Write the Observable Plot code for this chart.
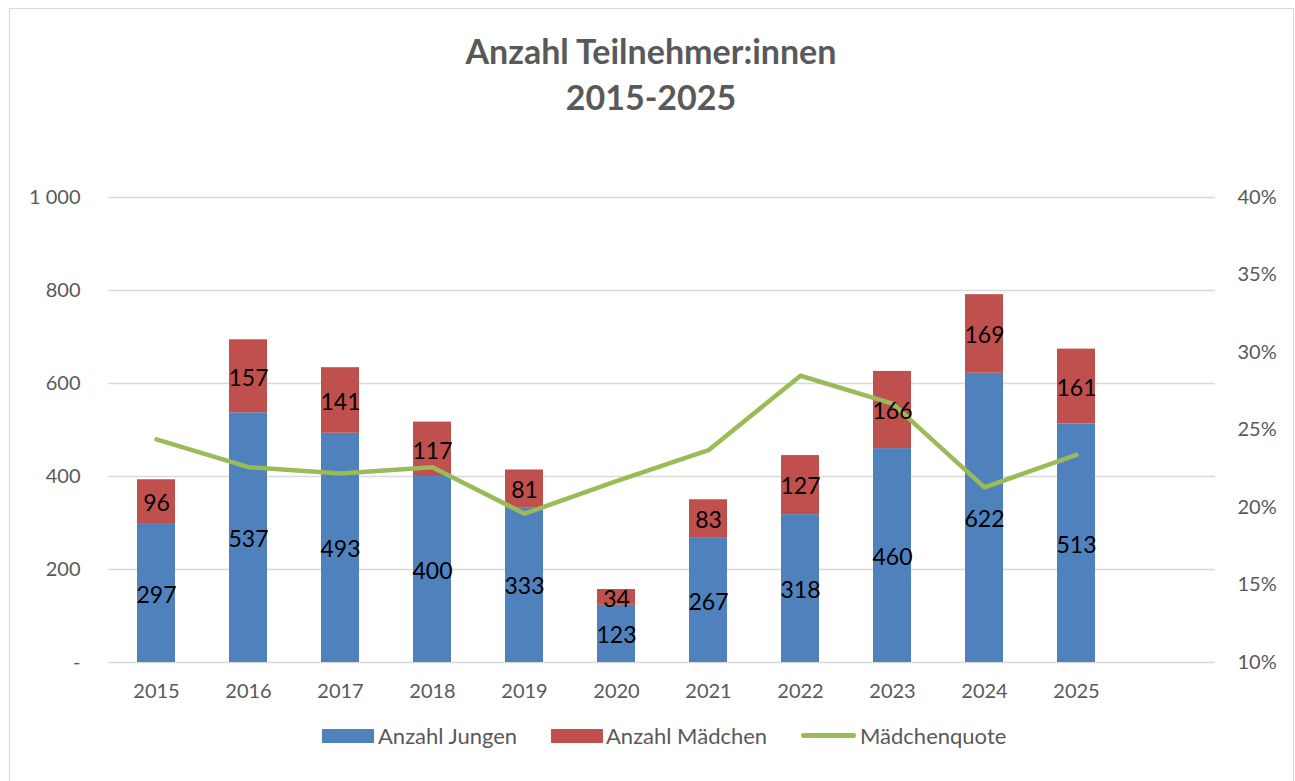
<!DOCTYPE html>
<html><head><meta charset="utf-8">
<script src="https://cdn.jsdelivr.net/npm/d3@7"></script>
<script src="https://cdn.jsdelivr.net/npm/@observablehq/plot@0.6"></script>
<style>
body{margin:0;background:#fff;font-family:Lato,sans-serif;}
#wrap{position:relative;width:1295px;height:781px;overflow:hidden;background:#fff;}
#frame{position:absolute;left:9px;top:8px;width:1285px;height:800px;border:1px solid #d9d9d9;box-sizing:border-box;}
#title{position:absolute;left:0;width:1302px;top:28px;text-align:center;font-weight:bold;font-size:34px;color:#595959;line-height:46px;}
#chart{position:absolute;left:0;top:150px;}
.lg{position:absolute;top:723px;height:26px;font-size:22px;color:#595959;line-height:26px;white-space:nowrap;}
.sw{position:absolute;}
</style></head>
<body>
<div id="wrap">
<div id="frame"></div>
<div id="title">Anzahl Teilnehmer:innen<br>2015-2025</div>
<div id="chart"></div>
<div id="legend"></div>
</div>
<script>
const years = ["2015","2016","2017","2018","2019","2020","2021","2022","2023","2024","2025"];
const jungen = [297,537,493,400,333,123,267,318,460,622,513];
const maedchen = [96,157,141,117,81,34,83,127,166,169,161];
const quote = [0.244,0.226,0.222,0.226,0.196,0.217,0.237,0.285,0.267,0.213,0.234];
const seriesNames = ["Anzahl Jungen","Anzahl Mädchen","Mädchenquote"];
const seriesColors = ["#4F81BD","#C0504D","#9BBB59"];
const leftTicks = [0,200,400,600,800,1000];
const rightTicks = [0.10,0.15,0.20,0.25,0.30,0.35,0.40];

const qToY = q => (q - 0.10) / 0.30 * 1000;
const yToQ = y => y / 1000 * 0.30 + 0.10;

const rows = years.flatMap((yr,i)=>[
  {year:yr, series:seriesNames[0], value:jungen[i]},
  {year:yr, series:seriesNames[1], value:maedchen[i]}
]);
const qRows = years.map((yr,i)=>({year:yr, q:quote[i]}));

const chart = Plot.plot({
  width:1295, height:560,
  marginTop:47, marginBottom:48, marginLeft:108, marginRight:80,
  style:{fontFamily:"Lato, sans-serif", fontSize:"20px", color:"#595959", background:"transparent"},
  x:{domain:[...years," "], paddingInner:0.59, paddingOuter:0.295, label:null},
  y:{domain:[0,1000], label:null},
  color:{domain:seriesNames.slice(0,2), range:seriesColors.slice(0,2)},
  marks:[
    Plot.ruleY(leftTicks, {stroke:"#d9d9d9", strokeWidth:1.3}),
    Plot.barY(rows, {x:"year", y:"value", fill:"series"}),
    Plot.line(qRows, {x:"year", y:d=>qToY(d.q), stroke:seriesColors[2], strokeWidth:4.5, strokeLinejoin:"round", strokeLinecap:"round"}),
    Plot.text(rows, Plot.stackY({x:"year", y:"value", z:"series", text:d=>String(d.value), fill:"black", fontSize:23, dy:2})),
    Plot.axisY(leftTicks, {anchor:"left", tickSize:0, tickPadding:28, fontSize:20,
      tickFormat:d=> d===0 ? "-" : d3.format(",")(d).replace(","," "), label:null}),
    Plot.axisY(rightTicks.map(qToY), {anchor:"right", tickSize:0, tickPadding:22, fontSize:20,
      tickFormat:d=> Math.round(yToQ(d)*100) + "%", textAnchor:"start", label:null}),
    Plot.axisX({tickSize:0, tickPadding:21, fontSize:20, label:null})
  ]
});
document.getElementById("chart").appendChild(chart);

const legend = document.getElementById("legend");
const lpos = [
  {sx:322, sw:52, tx:378, kind:"box"},
  {sx:551, sw:52, tx:606, kind:"box"},
  {sx:801, sw:55, tx:860, kind:"line"}
];
seriesNames.forEach((n,i)=>{
  const p = lpos[i];
  const s = document.createElement("div");
  s.className = "sw";
  if (p.kind==="box") {
    s.style.cssText = `left:${p.sx}px;top:729px;width:${p.sw}px;height:14px;background:${seriesColors[i]};`;
  } else {
    s.style.cssText = `left:${p.sx}px;top:733px;width:${p.sw}px;height:5px;border-radius:3px;background:${seriesColors[i]};`;
  }
  legend.appendChild(s);
  const t = document.createElement("div");
  t.className = "lg";
  t.style.left = p.tx + "px";
  t.textContent = n;
  legend.appendChild(t);
});
</script>
</body></html>
